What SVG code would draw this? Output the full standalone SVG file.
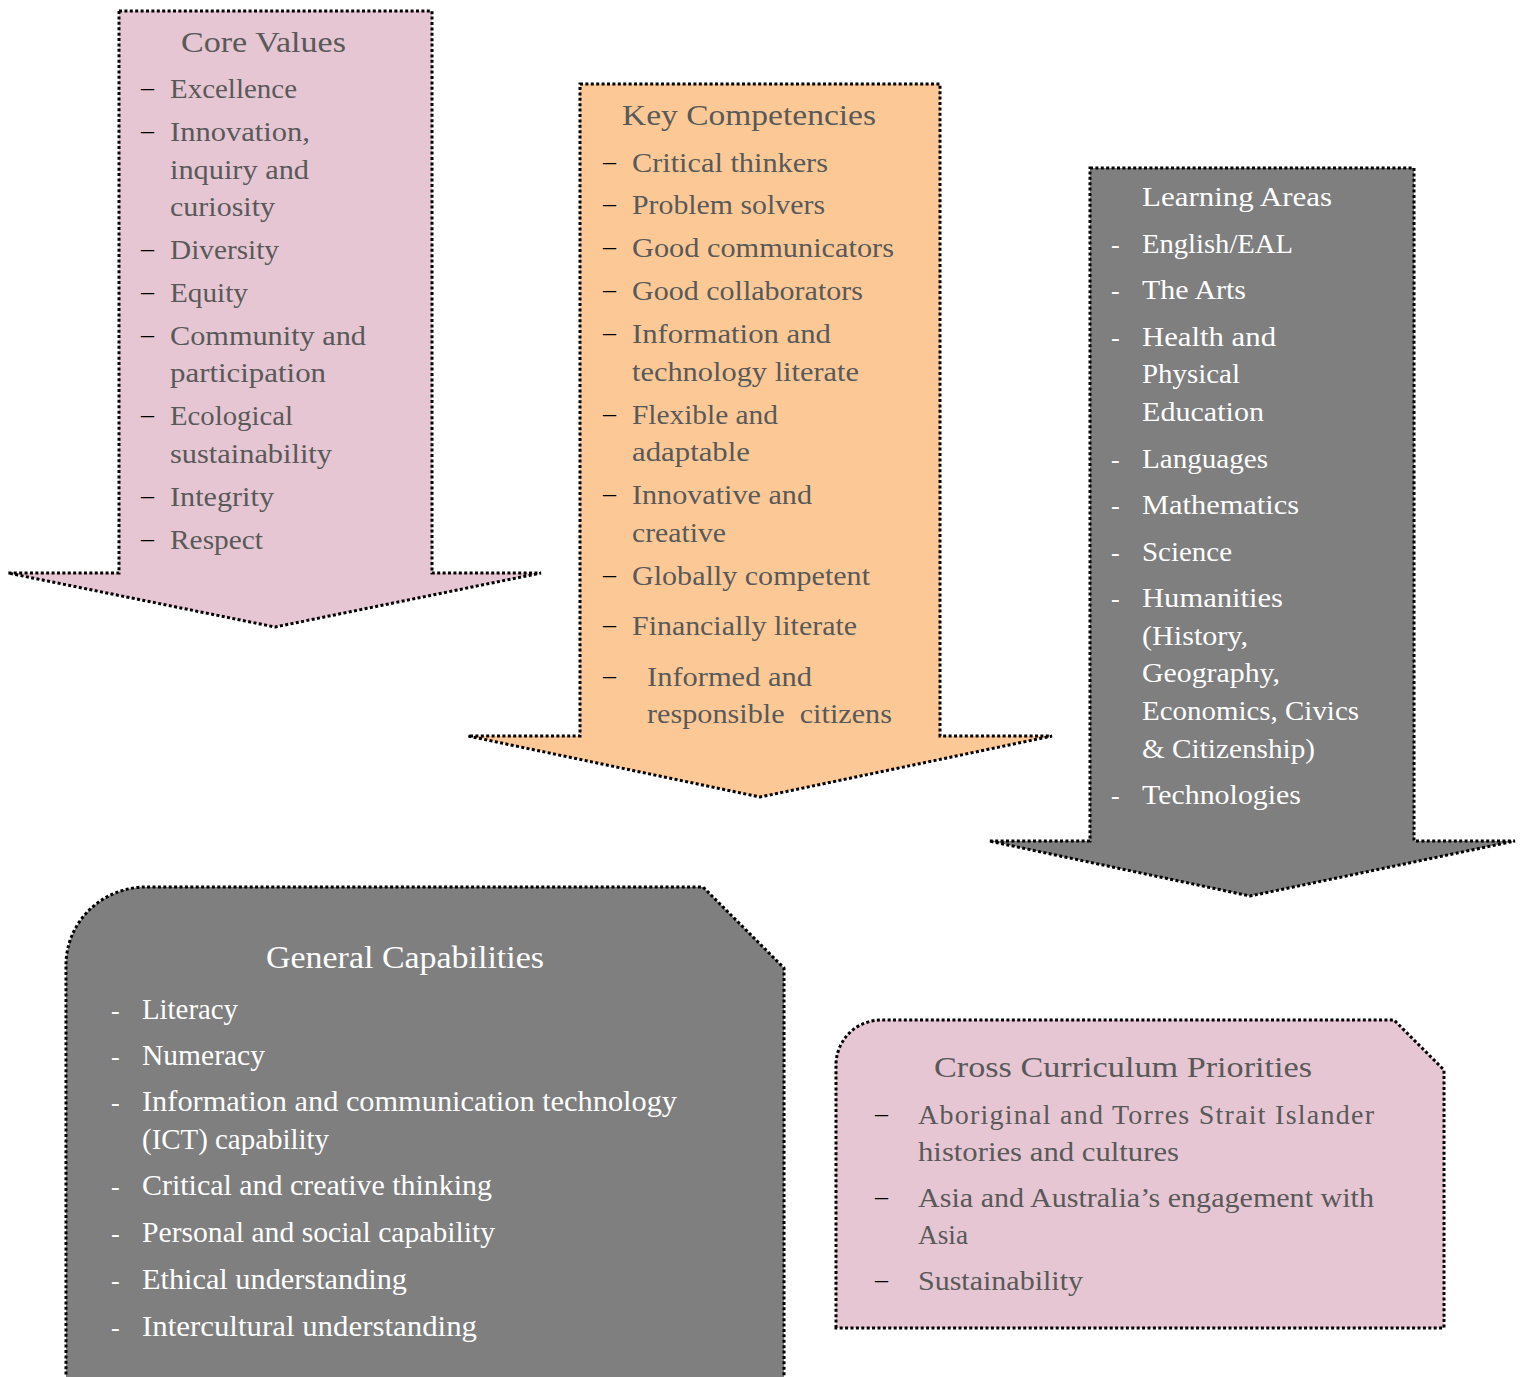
<svg xmlns="http://www.w3.org/2000/svg" width="1522" height="1377" viewBox="0 0 1522 1377">
<style>
.bd{stroke:#000;stroke-width:3;stroke-dasharray:3 2.4;}
.pink{fill:#e6c6d3;}
.peach{fill:#fcc996;}
.grey{fill:#7f7f7f;}
text{font-family:"Liberation Serif","DejaVu Serif",serif;}
.t{fill:#595959;font-size:27px;}
.tt{fill:#595959;font-size:29px;}
.w{fill:#ffffff;font-size:27px;}
.gw{fill:#ffffff;font-size:30px;}
.gt{fill:#ffffff;font-size:32px;}
.ct{fill:#595959;font-size:28px;}
.ctt{fill:#595959;font-size:30px;}
.d{fill:#000;font-size:26px;}
.hy{fill:#ffffff;font-size:26px;}
</style>
<g id="core-values">
<polygon class="pink bd" points="119,11 432,11 432,573 541,573 275,627 8,573 119,573"/>
<text class="tt" x="181" y="52" textLength="165" lengthAdjust="spacingAndGlyphs">Core Values</text>
<text class="d" x="141" y="96">–</text>
<text class="d" x="141" y="139">–</text>
<text class="d" x="141" y="257">–</text>
<text class="d" x="141" y="300">–</text>
<text class="d" x="141" y="343">–</text>
<text class="d" x="141" y="423">–</text>
<text class="d" x="141" y="504">–</text>
<text class="d" x="141" y="547">–</text>
<text class="t" x="170" y="98" textLength="127" lengthAdjust="spacingAndGlyphs">Excellence</text>
<text class="t" x="170" y="141" textLength="140" lengthAdjust="spacingAndGlyphs">Innovation,</text>
<text class="t" x="170" y="179" textLength="139" lengthAdjust="spacingAndGlyphs">inquiry and</text>
<text class="t" x="170" y="216" textLength="105" lengthAdjust="spacingAndGlyphs">curiosity</text>
<text class="t" x="170" y="259" textLength="109" lengthAdjust="spacingAndGlyphs">Diversity</text>
<text class="t" x="170" y="302" textLength="78" lengthAdjust="spacingAndGlyphs">Equity</text>
<text class="t" x="170" y="345" textLength="196" lengthAdjust="spacingAndGlyphs">Community and</text>
<text class="t" x="170" y="382" textLength="156" lengthAdjust="spacingAndGlyphs">participation</text>
<text class="t" x="170" y="425" textLength="123" lengthAdjust="spacingAndGlyphs">Ecological</text>
<text class="t" x="170" y="463" textLength="162" lengthAdjust="spacingAndGlyphs">sustainability</text>
<text class="t" x="170" y="506" textLength="104" lengthAdjust="spacingAndGlyphs">Integrity</text>
<text class="t" x="170" y="549" textLength="93" lengthAdjust="spacingAndGlyphs">Respect</text>
</g>
<g id="key-competencies">
<polygon class="peach bd" points="580,84 940,84 940,736 1052,736 760,797 468,736 580,736"/>
<text class="tt" x="622" y="125" textLength="254" lengthAdjust="spacingAndGlyphs">Key Competencies</text>
<text class="d" x="603" y="170">–</text>
<text class="d" x="603" y="212">–</text>
<text class="d" x="603" y="255">–</text>
<text class="d" x="603" y="298">–</text>
<text class="d" x="603" y="341">–</text>
<text class="d" x="603" y="422">–</text>
<text class="d" x="603" y="502">–</text>
<text class="d" x="603" y="583">–</text>
<text class="d" x="603" y="633">–</text>
<text class="d" x="603" y="684">–</text>
<text class="t" x="632" y="172" textLength="196" lengthAdjust="spacingAndGlyphs">Critical thinkers</text>
<text class="t" x="632" y="214" textLength="193" lengthAdjust="spacingAndGlyphs">Problem solvers</text>
<text class="t" x="632" y="257" textLength="262" lengthAdjust="spacingAndGlyphs">Good communicators</text>
<text class="t" x="632" y="300" textLength="231" lengthAdjust="spacingAndGlyphs">Good collaborators</text>
<text class="t" x="632" y="343" textLength="199" lengthAdjust="spacingAndGlyphs">Information and</text>
<text class="t" x="632" y="381" textLength="227" lengthAdjust="spacingAndGlyphs">technology literate</text>
<text class="t" x="632" y="424" textLength="146" lengthAdjust="spacingAndGlyphs">Flexible and</text>
<text class="t" x="632" y="461" textLength="118" lengthAdjust="spacingAndGlyphs">adaptable</text>
<text class="t" x="632" y="504" textLength="180" lengthAdjust="spacingAndGlyphs">Innovative and</text>
<text class="t" x="632" y="542" textLength="94" lengthAdjust="spacingAndGlyphs">creative</text>
<text class="t" x="632" y="585" textLength="238" lengthAdjust="spacingAndGlyphs">Globally competent</text>
<text class="t" x="632" y="635" textLength="225" lengthAdjust="spacingAndGlyphs">Financially literate</text>
<text class="t" x="647" y="686" textLength="165" lengthAdjust="spacingAndGlyphs">Informed and</text>
<text class="t" x="647" y="723" textLength="245" lengthAdjust="spacingAndGlyphs" xml:space="preserve">responsible  citizens</text>
</g>
<g id="learning-areas">
<polygon class="grey bd" points="1090,168 1414,168 1414,841 1515,841 1250,896 989,841 1090,841"/>
<text class="w" x="1142" y="206" textLength="190" lengthAdjust="spacingAndGlyphs">Learning Areas</text>
<text class="hy" x="1111" y="253">-</text>
<text class="hy" x="1111" y="299">-</text>
<text class="hy" x="1111" y="346">-</text>
<text class="hy" x="1111" y="468">-</text>
<text class="hy" x="1111" y="514">-</text>
<text class="hy" x="1111" y="561">-</text>
<text class="hy" x="1111" y="607">-</text>
<text class="hy" x="1111" y="804">-</text>
<text class="w" x="1142" y="253" textLength="151" lengthAdjust="spacingAndGlyphs">English/EAL</text>
<text class="w" x="1142" y="299" textLength="104" lengthAdjust="spacingAndGlyphs">The Arts</text>
<text class="w" x="1142" y="346" textLength="134" lengthAdjust="spacingAndGlyphs">Health and</text>
<text class="w" x="1142" y="383" textLength="98" lengthAdjust="spacingAndGlyphs">Physical</text>
<text class="w" x="1142" y="421" textLength="122" lengthAdjust="spacingAndGlyphs">Education</text>
<text class="w" x="1142" y="468" textLength="126" lengthAdjust="spacingAndGlyphs">Languages</text>
<text class="w" x="1142" y="514" textLength="157" lengthAdjust="spacingAndGlyphs">Mathematics</text>
<text class="w" x="1142" y="561" textLength="90" lengthAdjust="spacingAndGlyphs">Science</text>
<text class="w" x="1142" y="607" textLength="141" lengthAdjust="spacingAndGlyphs">Humanities</text>
<text class="w" x="1142" y="645" textLength="106" lengthAdjust="spacingAndGlyphs">(History,</text>
<text class="w" x="1142" y="682" textLength="138" lengthAdjust="spacingAndGlyphs">Geography,</text>
<text class="w" x="1142" y="720" textLength="217" lengthAdjust="spacingAndGlyphs">Economics, Civics</text>
<text class="w" x="1142" y="758" textLength="173" lengthAdjust="spacingAndGlyphs">&amp; Citizenship)</text>
<text class="w" x="1142" y="804" textLength="159" lengthAdjust="spacingAndGlyphs">Technologies</text>
</g>
<g id="general-capabilities">
<path class="grey bd" d="M66,1380 V965 A80,78 0 0 1 146,887 H703 L784,968 V1380"/>
<text class="gt" x="266" y="968" textLength="278" lengthAdjust="spacingAndGlyphs">General Capabilities</text>
<text class="hy" x="111" y="1019">-</text>
<text class="hy" x="111" y="1065">-</text>
<text class="hy" x="111" y="1111">-</text>
<text class="hy" x="111" y="1195">-</text>
<text class="hy" x="111" y="1242">-</text>
<text class="hy" x="111" y="1289">-</text>
<text class="hy" x="111" y="1336">-</text>
<text class="gw" x="142" y="1019" textLength="96" lengthAdjust="spacingAndGlyphs">Literacy</text>
<text class="gw" x="142" y="1065" textLength="123" lengthAdjust="spacingAndGlyphs">Numeracy</text>
<text class="gw" x="142" y="1111" textLength="535" lengthAdjust="spacingAndGlyphs">Information and communication technology</text>
<text class="gw" x="142" y="1149" textLength="187" lengthAdjust="spacingAndGlyphs">(ICT) capability</text>
<text class="gw" x="142" y="1195" textLength="350" lengthAdjust="spacingAndGlyphs">Critical and creative thinking</text>
<text class="gw" x="142" y="1242" textLength="353" lengthAdjust="spacingAndGlyphs">Personal and social capability</text>
<text class="gw" x="142" y="1289" textLength="265" lengthAdjust="spacingAndGlyphs">Ethical understanding</text>
<text class="gw" x="142" y="1336" textLength="335" lengthAdjust="spacingAndGlyphs">Intercultural understanding</text>
</g>
<g id="cross-curriculum-priorities">
<path class="pink bd" d="M836,1328 V1065 A45,45 0 0 1 881,1020 H1394 L1444,1070 V1328 Z"/>
<text class="ctt" x="934" y="1077" textLength="378" lengthAdjust="spacingAndGlyphs">Cross Curriculum Priorities</text>
<text class="d" x="875" y="1122">–</text>
<text class="d" x="875" y="1205">–</text>
<text class="d" x="875" y="1288">–</text>
<text class="ct" x="918" y="1124" textLength="456" lengthAdjust="spacing">Aboriginal and Torres Strait Islander</text>
<text class="ct" x="918" y="1161" textLength="261" lengthAdjust="spacingAndGlyphs">histories and cultures</text>
<text class="ct" x="918" y="1207" textLength="456" lengthAdjust="spacingAndGlyphs">Asia and Australia’s engagement with</text>
<text class="ct" x="918" y="1244" textLength="50" lengthAdjust="spacingAndGlyphs">Asia</text>
<text class="ct" x="918" y="1290" textLength="165" lengthAdjust="spacingAndGlyphs">Sustainability</text>
</g>
<g id="connectors"></g>
</svg>
